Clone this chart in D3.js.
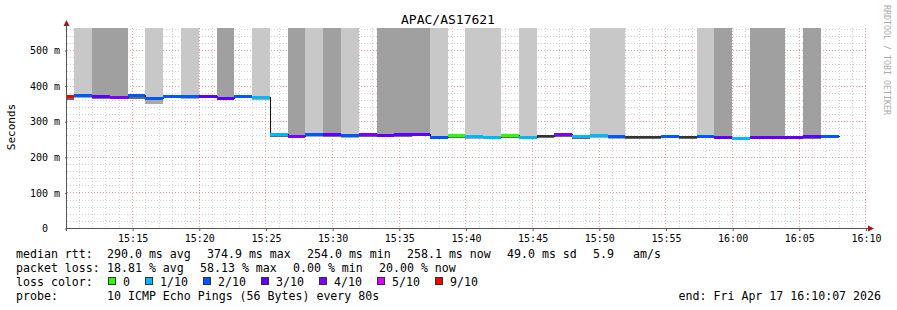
<!DOCTYPE html>
<html>
<head>
<meta charset="utf-8">
<script src="https://cdn.jsdelivr.net/npm/d3@7"></script>
<style>
body { margin: 0; background: #fff; }
text { font-family: "DejaVu Sans Mono", monospace; }
</style>
</head>
<body>
<svg id="chart" width="897" height="310"></svg>
<script>
//------------------- données -------------------

// premier pas de 80 s (le graphe commence au milieu de ce pas)
var stepStart = Date.UTC(2026, 3, 17, 15, 9, 20);
var stepSec = 80;
var viewStart = Date.UTC(2026, 3, 17, 15, 10, 7);
var viewEnd = Date.UTC(2026, 3, 17, 16, 10, 7);

// médiane rtt par pas (ms)
var medianRtt = [372, 374.9, 372, 369, 374, 366, 371, 370, 372, 365, 371, 367,
    264, 259, 264, 264, 261, 264, 262, 265, 265, 257, 260, 258, 255, 260, 256, 258,
    263, 258, 260, 258, 255, 256, 259, 256, 259, 257, 254, 256, 256, 256, 258, 258.1];

// rtt minimum par pas (bas de la fumée)
var minRtt = [362, 368, 366, 365, 366, 352, 367, 366, 368, 362, 367, 363,
    258, 256, 258, 259, 257, 258, 258, 259, 260, 253, 256, 254, 252, 256, 253, 255,
    259, 254, 256, 254, 252, 253, 255, 253, 255, 254, 251, 253, 253, 253, 254, 255];

// pertes sur 10 pings (null = pas de couleur lisible)
var loss = [9, 2, 3, 4, 2, 2, 2, 2, 3, 3, 2, 1,
    1, 4, 2, 3, 2, 4, 3, 3, 3, 2, 0, 1, 1, 0, 1, null,
    4, 1, 1, 2, null, null, 2, null, 2, 3, 1, 3, 3, 3, 3, 2];

// fumée au-dessus de la médiane : 0 aucune, 1 claire, 2 foncée
var smoke = [0, 1, 2, 2, 0, 1, 0, 1, 0, 2, 0, 1,
    0, 2, 1, 2, 1, 0, 2, 2, 2, 1, 0, 1, 1, 0, 1, 0,
    0, 0, 1, 1, 0, 0, 0, 0, 1, 2, 0, 2, 2, 0, 2, 0];

var yTicks = [0, 100, 200, 300, 400, 500];
var yMax = 562;

var lossLabels = ["0", "1/10", "2/10", "3/10", "4/10", "5/10", "9/10"];
var lossColors = ["#26ff00", "#00b8ff", "#0059ff", "#5e00ff", "#7e00ff", "#dd00ff", "#ff0000"];

var rowMedian = [["median rtt:", 16], ["290.0 ms avg", 107], ["374.9 ms max", 207], ["254.0 ms min", 307],
    ["258.1 ms now", 407], ["49.0 ms sd", 507], ["5.9", 593], ["am/s", 633]];
var rowLoss = [["packet loss:", 16], ["18.81 % avg", 107], ["58.13 % max", 200], ["0.00 % min", 293],
    ["20.00 % now", 379]];
var probeText = "10 ICMP Echo Pings (56 Bytes) every 80s";
var endText = "end: Fri Apr 17 16:10:07 2026";

//------------------- échelles -------------------

var svg = d3.select("#chart");
svg.append("rect").attr("width", 897).attr("height", 310).attr("fill", "#fff");

var x = d3.scaleUtc().domain([viewStart, viewEnd]).range([67, 867]);
var y = d3.scaleLinear().domain([0, yMax]).range([228, 28]);

function colorLoss(l) {
    if (l === null) return "#333";
    if (l >= 9) return lossColors[6];
    if (l >= 5) return lossColors[5];
    return lossColors[l];
}

var steps = medianRtt.map(function (m, i) {
    return {
        t0: new Date(stepStart + i * stepSec * 1000),
        t1: new Date(stepStart + (i + 1) * stepSec * 1000),
        med: m, min: minRtt[i], loss: loss[i], smoke: smoke[i]
    };
});

function px(t) { return Math.round(x(t)); }
function py(v) { return Math.round(y(v)); }

//------------------- grille -------------------

var grid = svg.append("g");
var minutes = d3.utcMinute.range(new Date(viewStart), new Date(viewEnd + 1));
grid.selectAll(".vmin").data(minutes.filter(function (d) { return d.getUTCMinutes() % 5 != 0; }))
    .enter().append("line")
    .attr("x1", function (d) { return px(d) + 0.5; })
    .attr("x2", function (d) { return px(d) + 0.5; })
    .attr("y1", y(yMax)).attr("y2", y(0))
    .attr("stroke", "#cfcfcf").attr("stroke-dasharray", "1,2");
grid.selectAll(".hmin").data(d3.range(20, yMax, 20).filter(function (v) { return v % 100 != 0; }))
    .enter().append("line")
    .attr("x1", 67).attr("x2", 867)
    .attr("y1", function (d) { return py(d) + 0.5; })
    .attr("y2", function (d) { return py(d) + 0.5; })
    .attr("stroke", "#cfcfcf").attr("stroke-dasharray", "1,2");
grid.selectAll(".vmaj").data(minutes.filter(function (d) { return d.getUTCMinutes() % 5 == 0; }))
    .enter().append("line")
    .attr("x1", function (d) { return px(d) + 0.5; })
    .attr("x2", function (d) { return px(d) + 0.5; })
    .attr("y1", y(yMax)).attr("y2", y(0))
    .attr("stroke", "#e89a9a").attr("stroke-dasharray", "1,2");
grid.selectAll(".hmaj").data(yTicks.filter(function (v) { return v > 0; }))
    .enter().append("line")
    .attr("x1", 67).attr("x2", 867)
    .attr("y1", function (d) { return py(d) + 0.5; })
    .attr("y2", function (d) { return py(d) + 0.5; })
    .attr("stroke", "#e89a9a").attr("stroke-dasharray", "1,2");

//------------------- fumée et médiane -------------------

svg.append("clipPath").attr("id", "plot")
    .append("rect").attr("x", 67).attr("y", y(yMax)).attr("width", 800).attr("height", y(0) - y(yMax));

var plot = svg.append("g").attr("clip-path", "url(#plot)").attr("shape-rendering", "crispEdges");

plot.selectAll(".smokeTop").data(steps.filter(function (d) { return d.smoke > 0; }))
    .enter().append("rect")
    .attr("x", function (d) { return px(d.t0); })
    .attr("width", function (d) { return px(d.t1) - px(d.t0); })
    .attr("y", py(yMax))
    .attr("height", function (d) { return py(d.med) - py(yMax); })
    .attr("fill", function (d) { return d.smoke == 2 ? "#a0a0a0" : "#c8c8c8"; });

plot.selectAll(".smokeLow").data(steps)
    .enter().append("rect")
    .attr("x", function (d) { return px(d.t0); })
    .attr("width", function (d) { return px(d.t1) - px(d.t0); })
    .attr("y", function (d) { return py(d.med); })
    .attr("height", function (d) { return py(d.min) - py(d.med) + 1; })
    .attr("fill", function (d) { return d.smoke == 1 ? "#a8a8a8" : (d.smoke == 2 ? "#747474" : "#686868"); });

var pts = steps.map(function (d) { return [d.t0, d.med]; });
pts.push([steps[steps.length - 1].t1, steps[steps.length - 1].med]);
plot.append("path")
    .attr("d", d3.line().curve(d3.curveStepAfter)
        .x(function (d) { return px(d[0]) + 0.5; })
        .y(function (d) { return py(d[1]) + 0.5; })(pts))
    .attr("fill", "none").attr("stroke", "#111").attr("stroke-width", 1);

plot.selectAll(".med").data(steps)
    .enter().append("rect")
    .attr("x", function (d) { return px(d.t0); })
    .attr("width", function (d) { return px(d.t1) - px(d.t0); })
    .attr("y", function (d) { return py(d.med) - 1; })
    .attr("height", function (d) { return d.loss === null ? 2 : 3; })
    .attr("fill", function (d) { return colorLoss(d.loss); });

//------------------- axes -------------------

var xAxis = svg.append("g").attr("transform", "translate(0.5,228)")
    .call(d3.axisBottom(x)
        .ticks(d3.utcMinute.every(5))
        .tickFormat(d3.utcFormat("%H:%M"))
        .tickSize(3).tickPadding(4));
xAxis.select(".domain").remove();
xAxis.selectAll("line").attr("stroke", "#555");
xAxis.selectAll("text").attr("font-size", 10).attr("fill", "#000")
    .attr("font-family", "DejaVu Sans Mono, monospace");

var yAxis = svg.append("g").attr("transform", "translate(67,0.5)")
    .call(d3.axisLeft(y)
        .tickValues(yTicks)
        .tickFormat(function (d) { return d == 0 ? "0  " : d + " m"; })
        .tickSize(2).tickPadding(5));
yAxis.select(".domain").remove();
yAxis.selectAll("line").attr("stroke", "#555");
yAxis.selectAll("text").attr("font-size", 10).attr("fill", "#000")
    .attr("font-family", "DejaVu Sans Mono, monospace").style("white-space", "pre");

svg.append("line").attr("x1", 67).attr("x2", 869).attr("y1", 228.5).attr("y2", 228.5)
    .attr("stroke", "#555");
svg.append("line").attr("x1", 66.5).attr("x2", 66.5).attr("y1", 231).attr("y2", 24)
    .attr("stroke", "#555");
svg.append("path").attr("d", "M63.5,26 L69.5,26 L66.5,20 Z").attr("fill", "#a01818");
svg.append("path").attr("d", "M868,225.5 L868,231.5 L874,228.5 Z").attr("fill", "#a01818");

//------------------- textes -------------------

svg.append("text").attr("x", 448).attr("y", 24).attr("text-anchor", "middle")
    .attr("font-size", 13).text("APAC/AS17621");

svg.append("text").attr("transform", "translate(15,127) rotate(-90)")
    .attr("text-anchor", "middle").attr("font-size", 11).text("Seconds");

svg.append("text").attr("transform", "translate(884,5) rotate(90)")
    .attr("font-size", 8.3).attr("fill", "#aaa").text("RRDTOOL / TOBI OETIKER");

var legend = svg.append("g").attr("font-size", 11.6).attr("fill", "#000");

legend.selectAll(".r1").data(rowMedian).enter().append("text")
    .attr("x", function (d) { return d[1]; }).attr("y", 258).text(function (d) { return d[0]; });
legend.selectAll(".r2").data(rowLoss).enter().append("text")
    .attr("x", function (d) { return d[1]; }).attr("y", 272).text(function (d) { return d[0]; });

legend.append("text").attr("x", 16).attr("y", 286).text("loss color:");
var lx = 108;
lossLabels.forEach(function (lab, i) {
    legend.append("rect").attr("x", lx + 0.5).attr("y", 277.5).attr("width", 7).attr("height", 7)
        .attr("fill", lossColors[i]).attr("stroke", "#333").attr("stroke-width", 1);
    legend.append("text").attr("x", lx + 15).attr("y", 286).text(lab);
    lx += 15 + lab.length * 7 + 15;
});

legend.append("text").attr("x", 16).attr("y", 300).text("probe:");
legend.append("text").attr("x", 107).attr("y", 300).text(probeText);
legend.append("text").attr("x", 881).attr("y", 300).attr("text-anchor", "end").text(endText);
</script>
</body>
</html>
